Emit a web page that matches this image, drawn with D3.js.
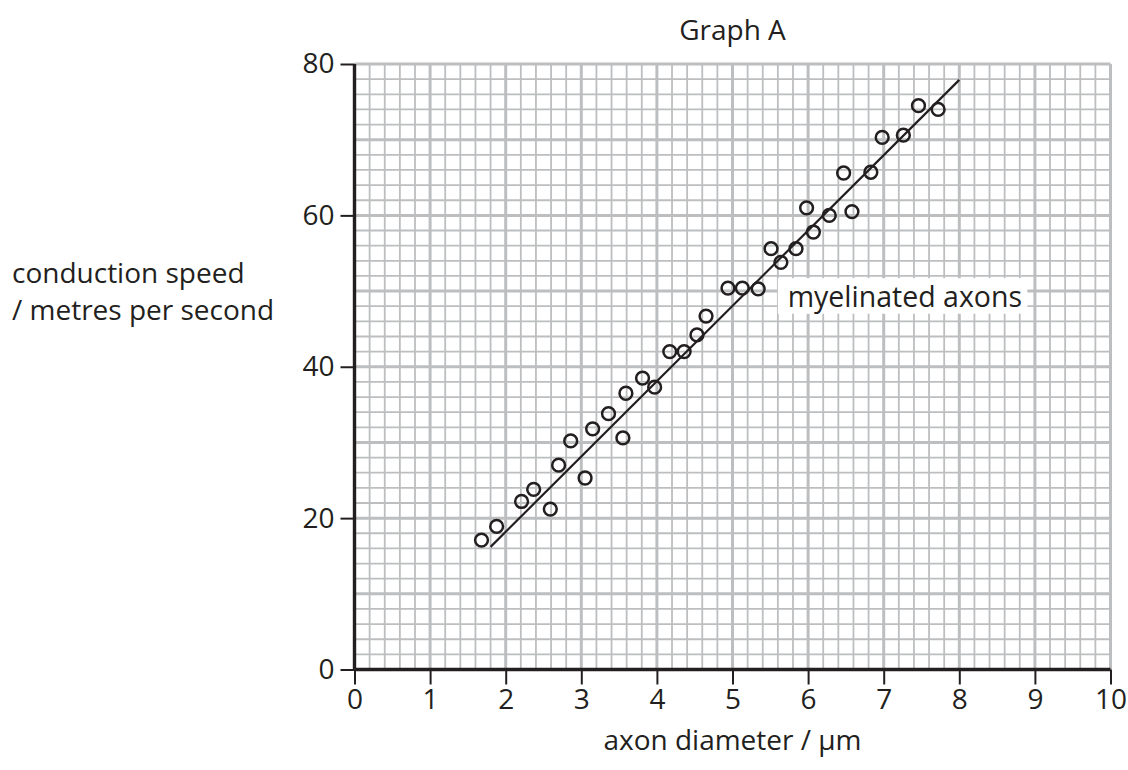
<!DOCTYPE html>
<html>
<head>
<meta charset="utf-8">
<script src="https://cdn.jsdelivr.net/npm/d3@7"></script>
<style>
  body { margin: 0; background: #fff; }
  text { font-family: "Open Sans", sans-serif; fill: #231f20; }
</style>
</head>
<body>
<div id="chart"></div>
<script>
const diameter = [1.68, 1.88, 2.21, 2.37, 2.59, 2.70, 2.86, 3.05, 3.15, 3.36, 3.55, 3.59,
                  3.81, 3.97, 4.17, 4.36, 4.53, 4.65, 4.94, 5.13, 5.34, 5.51, 5.64, 5.84,
                  5.98, 6.07, 6.28, 6.58, 6.47, 6.83, 6.98, 7.26, 7.46, 7.72];
const speed = [17.1, 18.9, 22.2, 23.8, 21.2, 27.0, 30.2, 25.3, 31.8, 33.8, 30.6, 36.5,
               38.5, 37.3, 42.0, 42.0, 44.2, 46.7, 50.4, 50.4, 50.3, 55.6, 53.8, 55.6,
               61.0, 57.8, 60.0, 60.5, 65.6, 65.7, 70.3, 70.6, 74.5, 74.0];
const fitX = [1.8, 8.0];
const fitY = [16.2, 77.9];
const xTicks = [0, 1, 2, 3, 4, 5, 6, 7, 8, 9, 10];
const yTicks = [0, 20, 40, 60, 80];

const margin = {top: 64, right: 17.5, bottom: 100.5, left: 354.5};
const width = 1128 - margin.left - margin.right;
const height = 770 - margin.top - margin.bottom;

const svg = d3.select("#chart").append("svg")
    .attr("width", 1128)
    .attr("height", 770);

const chart = svg.append("g")
    .attr("transform", "translate(" + margin.left + "," + margin.top + ")");

const x = d3.scaleLinear().domain([0, 10]).range([0, width]);
const y = d3.scaleLinear().domain([0, 80]).range([height, 0]);

const gridColor = "#bcbec0";

// minor grid, every 0.2 on x and every 2 on y
const grid = chart.append("g");
grid.selectAll(".vminor")
    .data(d3.range(1, 50).filter(function(i) { return i % 5 !== 0; }).map(function(i) { return i / 5; }))
    .enter().append("line")
    .attr("x1", function(d) { return x(d); }).attr("x2", function(d) { return x(d); })
    .attr("y1", 0).attr("y2", height)
    .attr("stroke", gridColor).attr("stroke-width", 1.8);
grid.selectAll(".hminor")
    .data(d3.range(1, 40).filter(function(i) { return i % 5 !== 0; }).map(function(i) { return i * 2; }))
    .enter().append("line")
    .attr("x1", 0).attr("x2", width)
    .attr("y1", function(d) { return y(d); }).attr("y2", function(d) { return y(d); })
    .attr("stroke", gridColor).attr("stroke-width", 1.8);

// heavier grid, every 1 on x and every 10 on y
grid.selectAll(".vmajor")
    .data(d3.range(1, 11))
    .enter().append("line")
    .attr("x1", function(d) { return x(d); }).attr("x2", function(d) { return x(d); })
    .attr("y1", 0).attr("y2", height)
    .attr("stroke", gridColor).attr("stroke-width", 3);
grid.selectAll(".hmajor")
    .data(d3.range(10, 81, 10))
    .enter().append("line")
    .attr("x1", 0).attr("x2", width)
    .attr("y1", function(d) { return y(d); }).attr("y2", function(d) { return y(d); })
    .attr("stroke", gridColor).attr("stroke-width", 3);

// label box covering the grid
const labelBox = chart.append("g");
labelBox.append("rect")
    .attr("x", x(5.6))
    .attr("y", y(51.7))
    .attr("width", x(8.9) - x(5.6))
    .attr("height", y(47.0) - y(51.7))
    .attr("fill", "white");
labelBox.append("text")
    .attr("x", x(5.73))
    .attr("y", y(47.9))
    .attr("font-size", "28.5px")
    .text("myelinated axons");

// best fit line
chart.append("line")
    .attr("x1", x(fitX[0])).attr("y1", y(fitY[0]))
    .attr("x2", x(fitX[1])).attr("y2", y(fitY[1]))
    .attr("stroke", "#231f20")
    .attr("stroke-width", 2.2);

// points
chart.selectAll(".dot")
    .data(diameter)
    .enter().append("circle")
    .attr("cx", function(d) { return x(d); })
    .attr("cy", function(d, i) { return y(speed[i]); })
    .attr("r", 6.4)
    .attr("fill", "none")
    .attr("stroke", "#231f20")
    .attr("stroke-width", 2.5);

// axes
const xAxis = chart.append("g")
    .attr("transform", "translate(0," + height + ")")
    .call(d3.axisBottom(x).tickValues(xTicks).tickSize(15).tickPadding(5).tickFormat(d3.format("d")));
const yAxis = chart.append("g")
    .call(d3.axisLeft(y).tickValues(yTicks).tickSize(14).tickPadding(6));

[xAxis, yAxis].forEach(function(ax) {
    ax.select(".domain").attr("stroke", "#231f20").attr("stroke-width", 3.4);
    ax.selectAll(".tick line").attr("stroke", "#231f20").attr("stroke-width", 2);
    ax.selectAll(".tick text")
        .attr("font-family", "Open Sans, sans-serif")
        .attr("font-size", 28)
        .attr("fill", "#231f20");
});
xAxis.select(".domain").attr("d", "M0,0H" + width);
yAxis.select(".domain").attr("d", "M0," + height + "V0");

// titles
chart.append("text")
    .attr("x", x(5))
    .attr("y", -24)
    .attr("text-anchor", "middle")
    .attr("font-size", "28px")
    .text("Graph A");

chart.append("text")
    .attr("x", x(5))
    .attr("y", height + 80)
    .attr("text-anchor", "middle")
    .attr("font-size", "28px")
    .text("axon diameter / µm");

const yLabel = svg.append("text")
    .attr("font-size", "28px");
yLabel.append("tspan").attr("x", 12).attr("y", 283).text("conduction speed");
yLabel.append("tspan").attr("x", 12).attr("y", 320).text("/ metres per second");
</script>
</body>
</html>
